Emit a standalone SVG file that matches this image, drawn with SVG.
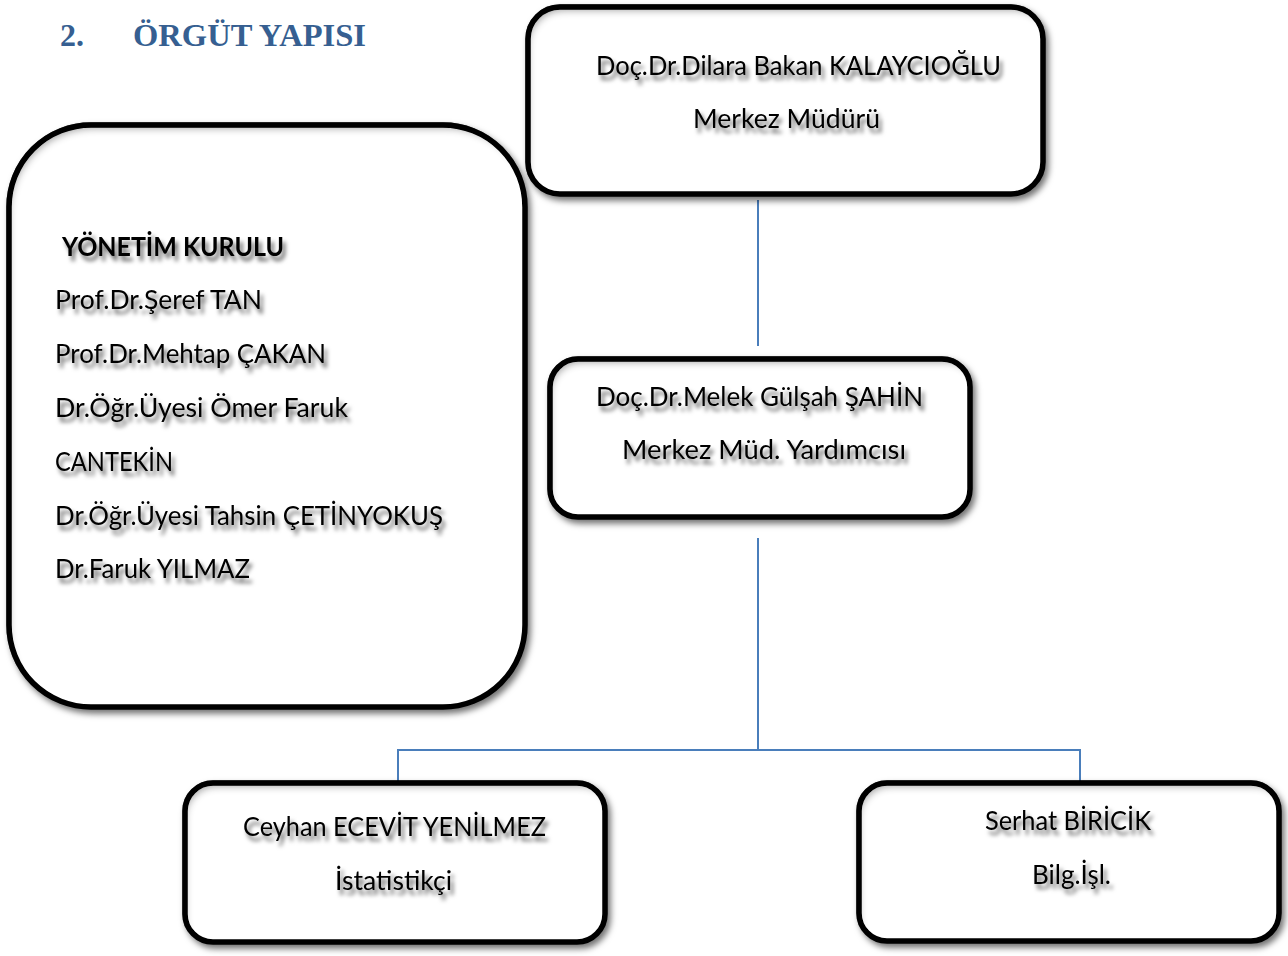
<svg xmlns="http://www.w3.org/2000/svg" width="1288" height="956" viewBox="0 0 1288 956">
<defs>
<filter id="boxfx" x="-8%" y="-10%" width="116%" height="125%">
 <feGaussianBlur in="SourceAlpha" stdDeviation="3" result="b"/>
 <feOffset in="b" dx="3" dy="4" result="ob"/>
 <feFlood flood-color="#000" flood-opacity="0.55"/>
 <feComposite in2="ob" operator="in" result="os"/>
 <feComponentTransfer in="SourceAlpha" result="inv"><feFuncA type="table" tableValues="1 0"/></feComponentTransfer>
 <feGaussianBlur in="inv" stdDeviation="3.5" result="ib"/>
 <feOffset in="ib" dx="4" dy="7" result="io"/>
 <feFlood flood-color="#000" flood-opacity="0.6"/>
 <feComposite in2="io" operator="in" result="is1"/>
 <feComposite in="is1" in2="SourceAlpha" operator="in" result="is"/>
 <feMerge><feMergeNode in="os"/><feMergeNode in="SourceGraphic"/><feMergeNode in="is"/></feMerge>
</filter>
<filter id="txtfx" x="-5%" y="-30%" width="115%" height="180%">
 <feGaussianBlur in="SourceAlpha" stdDeviation="2.2" result="b"/>
 <feOffset in="b" dx="3" dy="5" result="o"/>
 <feFlood flood-color="#000" flood-opacity="0.6"/>
 <feComposite in2="o" operator="in" result="s"/>
 <feMerge><feMergeNode in="s"/><feMergeNode in="SourceGraphic"/></feMerge>
</filter>
<style>
 .box{fill:#fff;stroke:#000;stroke-width:5.5;filter:url(#boxfx)}
 .t{font-family:Lato,"Open Sans","Liberation Sans",sans-serif;font-size:26.5px;fill:#000;filter:url(#txtfx)}
 .b{font-weight:bold}
 .title{font-family:"Liberation Serif","Times New Roman",serif;font-weight:bold;font-size:32px;fill:#365f91}
 .conn{stroke:#4a7ebb;stroke-width:2;fill:none}
</style>
</defs>
<rect width="1288" height="956" fill="#fff"/>
<g id="title">
 <text class="title" x="60" y="46">2.</text>
 <text class="title" x="133" y="46" textLength="233" lengthAdjust="spacingAndGlyphs">ÖRGÜT YAPISI</text>
</g>
<g id="connectors">
 <line class="conn" x1="758" y1="200" x2="758" y2="346"/>
 <line class="conn" x1="758" y1="538" x2="758" y2="750"/>
 <polyline class="conn" points="398,781 398,750 1080,750 1080,781"/>
</g>
<g id="node-yonetim">
 <rect class="box" x="9" y="125" width="516" height="582" rx="82"/>
 <text class="t b" x="62" y="256" textLength="222" lengthAdjust="spacingAndGlyphs">YÖNETİM KURULU</text>
 <text class="t" x="55" y="309" textLength="207" lengthAdjust="spacingAndGlyphs">Prof.Dr.Şeref TAN</text>
 <text class="t" x="55" y="363" textLength="271" lengthAdjust="spacingAndGlyphs">Prof.Dr.Mehtap ÇAKAN</text>
 <text class="t" x="55" y="417" textLength="293" lengthAdjust="spacingAndGlyphs">Dr.Öğr.Üyesi Ömer Faruk</text>
 <text class="t" x="55" y="471" textLength="118" lengthAdjust="spacingAndGlyphs">CANTEKİN</text>
 <text class="t" x="55" y="525" textLength="388" lengthAdjust="spacingAndGlyphs">Dr.Öğr.Üyesi Tahsin ÇETİNYOKUŞ</text>
 <text class="t" x="55" y="578" textLength="195" lengthAdjust="spacingAndGlyphs">Dr.Faruk YILMAZ</text>
</g>
<g id="node-mudur">
 <rect class="box" x="528" y="7" width="515" height="187" rx="32"/>
 <text class="t" x="596" y="75" textLength="405" lengthAdjust="spacingAndGlyphs">Doç.Dr.Dilara Bakan KALAYCIOĞLU</text>
 <text class="t" x="693" y="128" textLength="187" lengthAdjust="spacingAndGlyphs">Merkez Müdürü</text>
</g>
<g id="node-yardimci">
 <rect class="box" x="550" y="359" width="420" height="158" rx="28"/>
 <text class="t" x="596" y="406" textLength="327" lengthAdjust="spacingAndGlyphs">Doç.Dr.Melek Gülşah ŞAHİN</text>
 <text class="t" x="622" y="459" textLength="284" lengthAdjust="spacingAndGlyphs">Merkez Müd. Yardımcısı</text>
</g>
<g id="node-istatistikci">
 <rect class="box" x="185" y="783" width="420" height="159" rx="28"/>
 <text class="t" x="243" y="836" textLength="303" lengthAdjust="spacingAndGlyphs">Ceyhan ECEVİT YENİLMEZ</text>
 <text class="t" x="335" y="890" textLength="117" lengthAdjust="spacingAndGlyphs">İstatistikçi</text>
</g>
<g id="node-bilgisl">
 <rect class="box" x="859" y="783" width="420" height="158" rx="28"/>
 <text class="t" x="985" y="830" textLength="166" lengthAdjust="spacingAndGlyphs">Serhat BİRİCİK</text>
 <text class="t" x="1032" y="884" textLength="79" lengthAdjust="spacingAndGlyphs">Bilg.İşl.</text>
</g>
</svg>
